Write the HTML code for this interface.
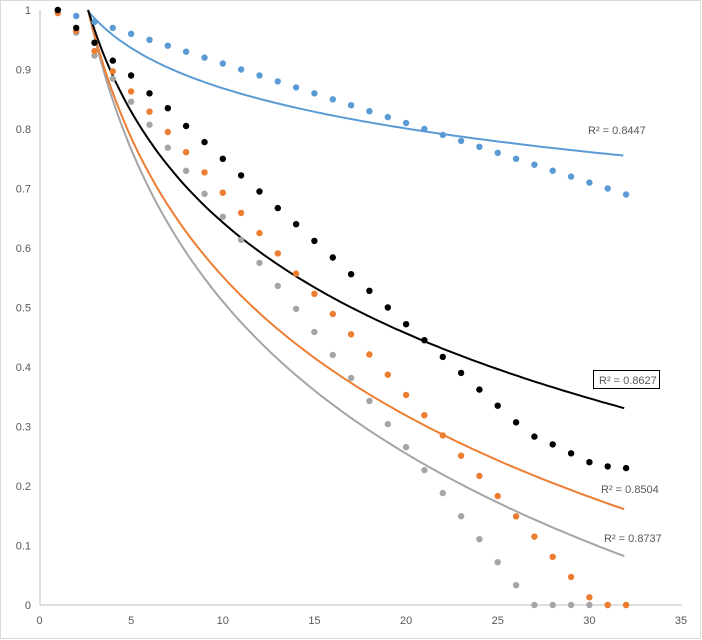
<!DOCTYPE html>
<html><head><meta charset="utf-8"><style>
html,body{margin:0;padding:0;background:#fff;}
svg{display:block;font-family:"Liberation Sans",sans-serif;}
</style></head><body>
<svg id="c" width="702" height="640" viewBox="0 0 702 640" xmlns="http://www.w3.org/2000/svg">
<rect x="0.5" y="0.5" width="700" height="638" fill="#fff" stroke="#d9d9d9"/>
<g id="g"></g>
</svg>
<script>
var X=function(v){return 39.5+v*18.33;},Y=function(v){return 605-v*595;};
var s='';
s+='<line x1="40" y1="10" x2="40" y2="605" stroke="#bfbfbf"/>';
s+='<line x1="40" y1="605" x2="682" y2="605" stroke="#bfbfbf"/>';
for(var i=0;i<=10;i++){var v=i/10;s+='<text x="31" y="'+(Y(v)+4)+'" font-size="11" fill="#595959" text-anchor="end">'+(i==0?'0':i==10?'1':v.toFixed(1))+'</text>';}
for(var i=0;i<=35;i+=5){s+='<text x="'+X(i)+'" y="624" font-size="11" fill="#595959" text-anchor="middle">'+i+'</text>';}
function curve(b,end,col){var p='',x0=Math.exp(Math.log(32)-(1-end)/b);for(var x=x0;x<=32.001;x+=0.25){var y=end+b*Math.log(32/x);p+=(p?'L':'M')+X(x).toFixed(1)+','+Y(y).toFixed(1);}return '<path d="'+p+'" fill="none" stroke="'+col+'" stroke-width="2"/>';}
s+=curve(0.0976,0.755,'#5b9bd5');
s+=curve(0.369,0.081,'#a5a5a5');
s+=curve(0.337,0.16,'#ed7d31');
s+=curve(0.269,0.33,'#000');
var blk=[1,.97,.945,.915,.89,.86,.835,.805,.778,.75,.722,.695,.667,.64,.612,.584,.556,.528,.5,.472,.445,.417,.39,.362,.335,.307,.283,.27,.255,.24,.233,.23];
function dots(f,col){for(var x=1;x<=32;x++){var y=f(x);s+='<circle cx="'+X(x).toFixed(1)+'" cy="'+Y(y).toFixed(1)+'" r="3.2" fill="'+col+'"/>';}}
dots(function(x){return 1-0.01*(x-1);},'#5b9bd5');
dots(function(x){return x==1?0.995:Math.max(0,0.962-0.0387*(x-2));},'#a5a5a5');
dots(function(x){return x==1?0.995:Math.max(0,0.965-0.034*(x-2));},'#ed7d31');
dots(function(x){return blk[x-1];},'#000');
s+='<text x="588" y="134" font-size="11" fill="#595959">R² = 0.8447</text>';
s+='<rect x="593.5" y="370.5" width="66" height="18" fill="#fff" stroke="#000"/>';
s+='<text x="599" y="384" font-size="11" fill="#595959">R² = 0.8627</text>';
s+='<text x="601" y="493" font-size="11" fill="#595959">R² = 0.8504</text>';
s+='<text x="604" y="542" font-size="11" fill="#595959">R² = 0.8737</text>';
document.getElementById('g').innerHTML=s;
</script>
</body></html>
